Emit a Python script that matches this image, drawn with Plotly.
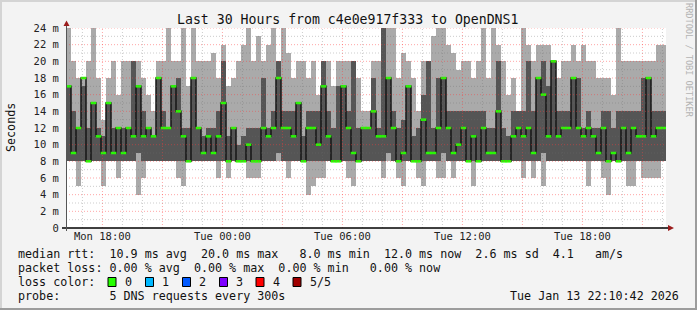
import plotly.graph_objects as go
from datetime import datetime, timedelta

# ---------------- data (15-minute steps, ms) ----------------
start = datetime(2026, 1, 12, 16, 10, 42)
end = datetime(2026, 1, 13, 22, 10, 42)
step_minutes = 15

ping_min = [8,8,5,8,8,8,8,5,8,8, 6,8,8,8,4,6,8,8,8,8,
            8,8,6,5,8,8,8,8,8,8, 6,8,6,8,8,8,6,6,6,8,
            8,8,8,8,6,8,8,8,4,5, 6,6,8,8,8,8,6,5,8,8,
            8,8,8,6,8,8,6,5,8,8, 6,5,8,8,6,6,8,6,8,8,
            8,5,8,8,8,8,8,8,8,8, 8,6,8,6,8,5,8,8,8,8,
            8,8,8,8,5,8,8,6,4,8, 8,8,5,5,8,6,6,6,6,8]
ping_q1 = [8,8,8,8,8,8,8,8,8,8, 8,8,8,8,9,8,8,8,8,8,
           8,8,8,8,8,8,8,8,8,8, 8,8,8,8,8,8,8,8,8,8,
           8,8,9,8,8,8,8,8,8,8, 8,8,8,8,8,8,8,8,8,8,
           8,8,8,8,9,8,8,8,8,8, 8,8,8,8,8,9,8,8,8,8,
           8,8,8,8,8,8,8,8,8,8, 8,8,8,8,8,9,8,8,8,8,
           8,8,8,8,8,8,8,8,8,8, 8,8,8,8,8,8,8,8,8,8]
ping_q3 = [17,14,12,17,12,15,12,11,15,12, 12,12,12,20,17,14,12,11,18,14,
           12,17,18,12,12,18,12,11,12,12, 14,20,11,12,10,11,12,12,12,18,
           12,14,20,14,14,14,15,11,14,14, 14,20,14,12,17,17,14,20,12,12,
           12,18,12,24,18,14,12,13,17,11, 12,16,20,12,18,18,14,14,14,14,
           14,14,14,14,12,12,20,12,11,14, 14,14,20,14,18,20,17,20,14,14,
           14,18,18,12,14,12,12,14,14,12, 14,14,14,14,14,18,18,14,14,14]
ping_max = [24,20,18,18,20,24,18,13,18,20, 16,20,20,20,20,18,16,14,20,20,
            24,20,20,24,17,24,20,20,20,21, 18,22,17,18,20,22,24,20,23,20,
            22,24,20,24,21,18,20,20,18,20, 16,20,20,17,20,20,20,20,18,14,
            14,20,20,24,24,24,18,21,20,18, 14,20,20,23,24,24,22,21,19,20,
            20,18,20,24,18,24,22,20,16,18, 14,24,22,20,22,22,22,20,18,20,
            20,22,20,22,20,20,18,18,18,16, 24,20,20,20,20,20,20,20,22,22]
ping_med = [17,9,12,18,8,15,11,9,15,9, 12,9,12,11,17,11,12,11,18,12,
            12,17,14,11,8,18,12,9,11,9, 11,15,8,12,8,8,10,8,8,12,
            11,12,18,12,12,11,15,8,12,12, 10,17,11,8,8,17,12,9,8,12,
            12,14,11,11,18,12,8,9,17,8, 8,13,9,9,12,18,12,9,10,12,
            8,11,8,12,9,9,14,8,8,11, 12,11,12,9,18,16,11,20,11,12,
            12,18,12,11,12,11,9,12,8,9, 8,12,9,12,11,11,18,11,12,12]

y_ticks = [0, 2, 4, 6, 8, 10, 12, 14, 16, 18, 20, 22, 24]
y_tick_text = ["0"] + [f"{v} m" for v in y_ticks[1:]]
x_tick_times = [datetime(2026, 1, 12, 18), datetime(2026, 1, 13, 0), datetime(2026, 1, 13, 6),
                datetime(2026, 1, 13, 12), datetime(2026, 1, 13, 18)]
x_tick_text = ["Mon 18:00", "Tue 00:00", "Tue 06:00", "Tue 12:00", "Tue 18:00"]

loss_labels = ["0", "1", "2", "3", "4", "5/5"]
loss_colors = ["#26ff00", "#00b8ff", "#0059ff", "#7e00ff", "#ff0000", "#a00000"]

# ---------------- geometry ----------------
W, H = 697, 310
L, R, T, B = 66, 666, 28, 228
FONT = "DejaVu Sans Mono"

def xp(px):
    return (px - L) / (R - L)

def yp(py):
    return (B - py) / (B - T)

n = len(ping_med)
xs = [start + timedelta(minutes=step_minutes * (i + 0.5)) for i in range(n)]
bw = step_minutes * 60 * 1000

fig = go.Figure()
fig.add_trace(go.Bar(x=xs, y=[h - l for h, l in zip(ping_max, ping_min)], base=ping_min,
                     width=bw, marker=dict(color="#aaaaaa", line=dict(width=0)), hoverinfo="skip"))
fig.add_trace(go.Bar(x=xs, y=[h - l for h, l in zip(ping_q3, ping_q1)], base=ping_q1,
                     width=bw, marker=dict(color="#555555", line=dict(width=0)), hoverinfo="skip"))
fig.add_trace(go.Scatter(x=xs, y=ping_med, mode="lines", line=dict(color="#161616", width=1.5, shape="hvh"),
                         hoverinfo="skip"))
fig.add_trace(go.Scatter(x=xs, y=ping_med, mode="markers",
                         marker=dict(symbol="line-ew", size=4, line=dict(color="#26ff00", width=2.5)),
                         hoverinfo="skip"))

shapes = []
# grid above data
h = start.replace(minute=0, second=0) + timedelta(hours=1)
while h < end:
    major = (h.hour % 3 == 0)
    shapes.append(dict(type="line", xref="x", yref="paper", x0=h, x1=h, y0=0, y1=1, layer="above",
                       line=dict(color="rgba(255,60,60,0.45)" if major else "rgba(110,110,110,0.35)",
                                 width=1, dash="1px,2px")))
    h += timedelta(hours=1)
for v in range(1, 25):
    major = (v % 2 == 0)
    shapes.append(dict(type="line", xref="paper", yref="y", x0=0, x1=1, y0=v, y1=v, layer="above",
                       line=dict(color="rgba(255,60,60,0.45)" if major else "rgba(110,110,110,0.35)",
                                 width=1, dash="1px,2px")))

# axes lines and arrows
shapes.append(dict(type="line", xref="paper", yref="paper", x0=xp(62), x1=xp(670), y0=0, y1=0,
                   line=dict(color="#000000", width=1.5), layer="above"))
shapes.append(dict(type="line", xref="paper", yref="paper", x0=xp(66.5), x1=xp(66.5), y0=yp(231), y1=yp(24),
                   line=dict(color="#555555", width=1), layer="above"))
shapes.append(dict(type="path", xref="paper", yref="paper", layer="above",
                   path=f"M {xp(63.5)} {yp(26)} L {xp(69.5)} {yp(26)} L {xp(66.5)} {yp(20.5)} Z",
                   fillcolor="#9b1c1c", line=dict(width=0)))
shapes.append(dict(type="path", xref="paper", yref="paper", layer="above",
                   path=f"M {xp(668)} {yp(225)} L {xp(668)} {yp(231)} L {xp(674)} {yp(228)} Z",
                   fillcolor="#9b1c1c", line=dict(width=0)))

# frame
def rect(x0, y0, x1, y1, color):
    shapes.append(dict(type="rect", xref="paper", yref="paper", x0=xp(x0), x1=xp(x1), y0=yp(y1), y1=yp(y0),
                       fillcolor=color, line=dict(width=0), layer="below"))
rect(0, 0, W, 2, "#d4d4d4")
rect(0, 0, 2, H, "#d4d4d4")
rect(0, H - 2, W, H, "#9c9c9c")
rect(W - 2, 0, W, H, "#9c9c9c")

# loss color boxes
box_x = [108, 145.5, 182.5, 219.5, 256, 293]
for bx, col in zip(box_x, loss_colors):
    shapes.append(dict(type="rect", xref="paper", yref="paper", x0=xp(bx), x1=xp(bx + 8), y0=yp(286.5), y1=yp(277.5),
                       fillcolor=col, line=dict(color="#000000", width=1)))

ann = []
def text(px, py, s, size=11.7, anchor="left", color="#111111", angle=0):
    ann.append(dict(x=xp(px), y=yp(py), xref="paper", yref="paper", text=s, showarrow=False,
                    xanchor=anchor, yanchor="middle", textangle=angle,
                    font=dict(family=FONT, size=size, color=color)))

text(347, 19.5, "Last 30 Hours from c4e0e917f333 to OpenDNS1", size=13.2, anchor="center")
text(11, 128, "Seconds", size=11.7, anchor="center", angle=-90)
text(689, 60, "RRDTOOL / TOBI OETIKER", size=8.6, anchor="center", color="#b4b4b4", angle=90)
text(16, 254, "median rtt:  10.9 ms avg  20.0 ms max   8.0 ms min  12.0 ms now  2.6 ms sd  4.1   am/s".replace(" ", "&nbsp;"))
text(16, 268, "packet loss: 0.00 % avg  0.00 % max  0.00 % min   0.00 % now".replace(" ", "&nbsp;"))
text(16, 282, "loss color:")
for bx, lab in zip(box_x, loss_labels):
    text(bx + 14.5, 282, lab)
text(16, 296, "probe:       5 DNS requests every 300s".replace(" ", "&nbsp;"))
text(681, 296, "Tue Jan 13 22:10:42 2026", anchor="right")

fig.update_layout(
    width=W, height=H, margin=dict(l=L, r=W - R, t=T, b=H - B, pad=0),
    paper_bgcolor="#f3f3f3", plot_bgcolor="#ffffff",
    barmode="overlay", bargap=0, showlegend=False,
    shapes=shapes, annotations=ann,
    xaxis=dict(range=[start, end], tickvals=x_tick_times, ticktext=x_tick_text, showgrid=False,
               zeroline=False, showline=False, ticks="", tickfont=dict(family=FONT, size=10.5, color="#222222")),
    yaxis=dict(range=[0, 24], tickvals=y_ticks, ticktext=y_tick_text, showgrid=False, zeroline=False,
               showline=False, ticks="outside", ticklen=4, tickcolor="rgba(0,0,0,0)",
               tickfont=dict(family=FONT, size=10.5, color="#222222")),
)

fig.write_html("out.html")
